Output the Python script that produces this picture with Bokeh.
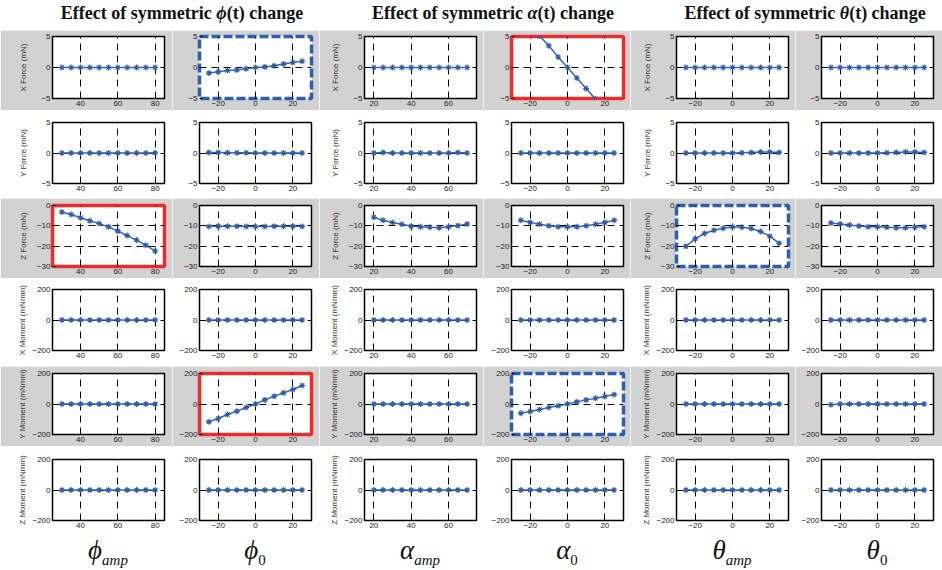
from bokeh.plotting import figure
from bokeh.models import Range1d, FixedTicker, Div
from bokeh.layouts import row, column
from bokeh.embed import file_html
from bokeh.resources import INLINE

# ---------------- data ----------------
x_phi_amp = [30, 35, 40, 45, 50, 55, 60, 65, 70, 75, 80]
x_phi0 = [-25, -20, -15, -10, -5, 0, 5, 10, 15, 20, 25]
x_alpha_amp = [20, 25, 30, 35, 40, 45, 50, 55, 60, 65, 70]
x_alpha0 = [-25, -20, -15, -10, -5, 0, 5, 10, 15, 20, 25]
x_theta_amp = [-25, -20, -15, -10, -5, 0, 5, 10, 15, 20, 25]
x_theta0 = [-25, -20, -15, -10, -5, 0, 5, 10, 15, 20, 25]

x_ticks_phi_amp = [40, 60, 80]
x_ticks_phi0 = [-20, 0, 20]
x_ticks_alpha_amp = [20, 40, 60]
x_ticks_alpha0 = [-20, 0, 20]
x_ticks_theta_amp = [-20, 0, 20]
x_ticks_theta0 = [-20, 0, 20]

# X Force (mN)
fx_phi_amp = [0.0, 0.0, 0.0, 0.0, 0.0, 0.0, 0.0, 0.0, 0.0, 0.0, 0.0]
fx_phi0 = [-0.9, -0.7, -0.5, -0.4, -0.2, 0.0, 0.1, 0.3, 0.55, 0.8, 1.0]
fx_alpha_amp = [0.0, 0.0, 0.0, 0.0, 0.0, 0.0, 0.0, 0.0, 0.0, 0.0, 0.0]
fx_alpha0 = [8.6, 6.9, 5.1, 3.5, 1.7, 0.0, -1.7, -3.4, -5.1, -6.8, -8.5]
fx_theta_amp = [0.0, 0.0, 0.0, 0.0, 0.0, 0.0, 0.0, 0.0, 0.0, 0.0, 0.0]
fx_theta0 = [0.0, 0.0, 0.0, 0.0, 0.0, 0.0, 0.0, 0.0, 0.0, 0.0, 0.0]
# Y Force (mN)
fy_phi_amp = [0.0, 0.0, 0.0, 0.0, 0.0, 0.0, 0.0, 0.0, 0.0, 0.0, 0.05]
fy_phi0 = [0.1, 0.1, 0.05, 0.05, 0.05, 0.0, 0.0, 0.0, 0.0, 0.0, 0.0]
fy_alpha_amp = [0.0, 0.1, 0.0, 0.0, 0.0, 0.0, 0.0, 0.0, 0.0, 0.1, 0.0]
fy_alpha0 = [0.0, 0.0, 0.0, 0.0, 0.0, 0.0, 0.0, 0.0, 0.0, 0.0, 0.0]
fy_theta_amp = [0.0, 0.0, 0.0, 0.0, 0.0, 0.0, 0.05, 0.1, 0.15, 0.15, 0.1]
fy_theta0 = [0.0, 0.0, 0.0, 0.0, 0.0, 0.0, 0.05, 0.1, 0.15, 0.15, 0.1]
# Z Force (mN)
fz_phi_amp = [-3.2, -4.4, -6.0, -7.5, -8.9, -10.5, -12.6, -14.8, -17.0, -19.5, -22.4]
fz_phi0 = [-10.3, -10.2, -10.2, -10.2, -10.3, -10.3, -10.3, -10.2, -10.2, -10.2, -10.3]
fz_alpha_amp = [-5.8, -7.3, -8.4, -9.2, -10.2, -10.4, -10.7, -10.9, -10.5, -9.9, -9.1]
fz_alpha0 = [-7.3, -8.3, -9.2, -10.0, -10.4, -10.5, -10.4, -10.0, -9.2, -8.3, -7.3]
fz_theta_amp = [-20.1, -16.4, -13.8, -12.2, -11.2, -10.5, -10.7, -11.3, -12.8, -15.1, -18.6]
fz_theta0 = [-8.6, -9.1, -9.6, -10.1, -10.4, -10.5, -10.7, -10.9, -10.9, -10.7, -10.4]
# X Moment (mNmm)
mx_phi_amp = [0, 0, 0, 0, 0, 0, 0, 0, 0, 0, 0]
mx_phi0 = [0, 0, 0, 0, 0, 0, 0, 0, 0, 0, 0]
mx_alpha_amp = [0, 0, 0, 0, 0, 0, 0, 0, 0, 0, 0]
mx_alpha0 = [0, 0, 0, 0, 0, 0, 0, 0, 0, 0, 0]
mx_theta_amp = [0, 0, 0, 0, 0, 0, 0, 0, 0, 0, 0]
mx_theta0 = [0, 0, 0, 0, 0, 0, 0, 0, 0, 0, 0]
# Y Moment (mNmm)
my_phi_amp = [0, 0, 0, 0, 0, 0, 0, 0, 0, 0, 0]
my_phi0 = [-117, -95, -69, -47, -23, 0, 27, 51, 73, 95, 121]
my_alpha_amp = [0, 0, 0, 0, 0, 0, 0, 0, 0, 0, 0]
my_alpha0 = [-60, -49, -36, -23, -12, 0, 14, 27, 38, 49, 62]
my_theta_amp = [0, 0, 0, 0, 0, 0, 0, 0, 0, 0, 0]
my_theta0 = [-5, 0, 0, 0, 0, 0, 0, 0, 0, 0, 0]
# Z Moment (mNmm)
mz_phi_amp = [0, 0, 0, 0, 0, 0, 0, 0, 0, 0, 0]
mz_phi0 = [0, 0, 0, 0, 0, 0, 0, 0, 0, 0, 0]
mz_alpha_amp = [0, 0, 0, 0, 0, 0, 0, 0, 0, 0, 0]
mz_alpha0 = [0, 0, 0, 0, 0, 0, 0, 0, 0, 0, 0]
mz_theta_amp = [0, 0, 0, 0, 0, 0, 0, 0, 0, 0, 0]
mz_theta0 = [0, 0, 0, 0, 0, 0, 0, 0, 0, 0, 0]

row_labels = ["X Force (mN)", "Y Force (mN)", "Z Force (mN)",
              "X Moment (mNmm)", "Y Moment (mNmm)", "Z Moment (mNmm)"]
y_ticks_force = [-5, 0, 5]
y_ticks_z = [-30, -20, -10, 0]
y_ticks_moment = [-200, 0, 200]

titles = ["Effect of symmetric <i>&#981;</i>(t) change",
          "Effect of symmetric <i>&alpha;</i>(t) change",
          "Effect of symmetric <i>&theta;</i>(t) change"]
SUB = "<sub style='font-size:15px;vertical-align:-6px'>%s</sub>"
bottom_labels = ["<i>&#981;</i>" + SUB % "<i>amp</i>",
                 "<i>&#981;</i>" + SUB % "0",
                 "<i>&alpha;</i>" + SUB % "<i>amp</i>",
                 "<i>&alpha;</i>" + SUB % "0",
                 "<i>&theta;</i>" + SUB % "<i>amp</i>",
                 "<i>&theta;</i>" + SUB % "0"]

xs = [x_phi_amp, x_phi0, x_alpha_amp, x_alpha0, x_theta_amp, x_theta0]
xticks = [x_ticks_phi_amp, x_ticks_phi0, x_ticks_alpha_amp, x_ticks_alpha0,
          x_ticks_theta_amp, x_ticks_theta0]
ys = [
    [fx_phi_amp, fx_phi0, fx_alpha_amp, fx_alpha0, fx_theta_amp, fx_theta0],
    [fy_phi_amp, fy_phi0, fy_alpha_amp, fy_alpha0, fy_theta_amp, fy_theta0],
    [fz_phi_amp, fz_phi0, fz_alpha_amp, fz_alpha0, fz_theta_amp, fz_theta0],
    [mx_phi_amp, mx_phi0, mx_alpha_amp, mx_alpha0, mx_theta_amp, mx_theta0],
    [my_phi_amp, my_phi0, my_alpha_amp, my_alpha0, my_theta_amp, my_theta0],
    [mz_phi_amp, mz_phi0, mz_alpha_amp, mz_alpha0, mz_theta_amp, mz_theta0],
]

# ---------------- layout / style ----------------
x_ranges = [(25, 85), (-30, 30), (15, 75), (-30, 30), (-30, 30), (-30, 30)]
y_ranges = [(-5, 5), (-5, 5), (-30, 0), (-200, 200), (-200, 200), (-200, 200)]
y_tick_sets = [y_ticks_force, y_ticks_force, y_ticks_z,
               y_ticks_moment, y_ticks_moment, y_ticks_moment]
label_standoff = [10, 10, 6, 2, 2, 2]

FRAME_W = 112
col_w = [172, 147, 164, 147, 165, 147]
lb = [52, 27, 45, 28, 46, 26]
rb = [w - l - FRAME_W for w, l in zip(col_w, lb)]
row_h = [80, 88, 80, 88, 80, 88]
tb = [6, 12, 7, 11, 7, 13]
bb = [12, 15, 12, 16, 12, 14]
GRAY = "#d2d2d2"
LINE = "#3a66b5"
highlight = {(0, 3): "red", (2, 0): "red", (4, 1): "red",
             (0, 1): "blue", (2, 4): "blue", (4, 3): "blue"}

rows = []
# title row
title_divs = []
tw = [364, 258, 320]
tpad = [0, 0, 46]
for t, w, pad in zip(titles, tw, tpad):
    html = ("<div style=\"width:%dpx;margin-left:%dpx;padding-top:4px;text-align:center;"
            "font-family:'Liberation Serif','DejaVu Serif',serif;font-weight:bold;"
            "font-size:18px;line-height:18px;color:#111;white-space:nowrap\">%s</div>") % (w - pad, pad, t)
    title_divs.append(Div(text=html, width=w, height=30, margin=0))
rows.append(row(*title_divs, spacing=0))

for r in range(6):
    figs = []
    for c in range(6):
        p = figure(width=col_w[c], height=row_h[r], output_backend="svg",
                   toolbar_location=None,
                   x_range=Range1d(*x_ranges[c]), y_range=Range1d(*y_ranges[r]),
                   min_border_left=lb[c], min_border_right=rb[c],
                   min_border_top=tb[r], min_border_bottom=bb[r])
        p.border_fill_color = GRAY if r % 2 == 0 else "white"
        p.background_fill_color = "white"
        hl = highlight.get((r, c))
        if hl == "red":
            p.outline_line_color = "#ee2b2b"
            p.outline_line_width = 3.5
        elif hl == "blue":
            p.outline_line_color = "#2d5fae"
            p.outline_line_width = 3.5
            p.outline_line_dash = "9 3"
        else:
            p.outline_line_color = "black"
            p.outline_line_width = 1.5
        p.outline_line_alpha = 1
        p.xaxis.ticker = FixedTicker(ticks=xticks[c])
        p.yaxis.ticker = FixedTicker(ticks=y_tick_sets[r])
        for ax in (p.xaxis, p.yaxis):
            ax.axis_line_color = None
            ax.major_tick_in = 3
            ax.major_tick_out = 0
            ax.major_tick_line_color = "black"
            ax.minor_tick_line_color = None
            ax.major_label_text_font = "Liberation Sans"
            ax.major_label_text_font_size = "8px"
            ax.major_label_text_color = "#222222"
            ax.major_label_standoff = 2
        for g in (p.xgrid, p.ygrid):
            g.grid_line_color = "black"
            g.grid_line_dash = "7 5"
            g.grid_line_width = 1
            g.grid_line_alpha = 1
        if c % 2 == 0:
            p.yaxis.axis_label = row_labels[r]
            p.yaxis.axis_label_text_font = "Liberation Sans"
            p.yaxis.axis_label_text_font_size = "8px"
            p.yaxis.axis_label_text_font_style = "normal"
            p.yaxis.axis_label_text_color = "#333333"
            p.yaxis.axis_label_standoff = label_standoff[r]
        p.line(xs[c], ys[r][c], line_color=LINE, line_width=1.5)
        p.scatter(xs[c], ys[r][c], marker="asterisk", size=6,
                  line_color="#2d5aa8", line_width=1.1)
        figs.append(p)
    rows.append(row(*figs, spacing=0))

bottom_divs = []
for c in range(6):
    html = ("<div style=\"width:%dpx;margin-left:%dpx;padding-top:3px;text-align:center;"
            "font-family:'Liberation Serif','DejaVu Serif',serif;font-size:27px;"
            "line-height:27px;color:#111;white-space:nowrap\">%s</div>") % (FRAME_W, lb[c], bottom_labels[c])
    bottom_divs.append(Div(text=html, width=col_w[c], height=34, margin=0))
rows.append(row(*bottom_divs, spacing=0))

layout = column(*rows, spacing=0)

open("out.html", "w").write(file_html(layout, INLINE))
